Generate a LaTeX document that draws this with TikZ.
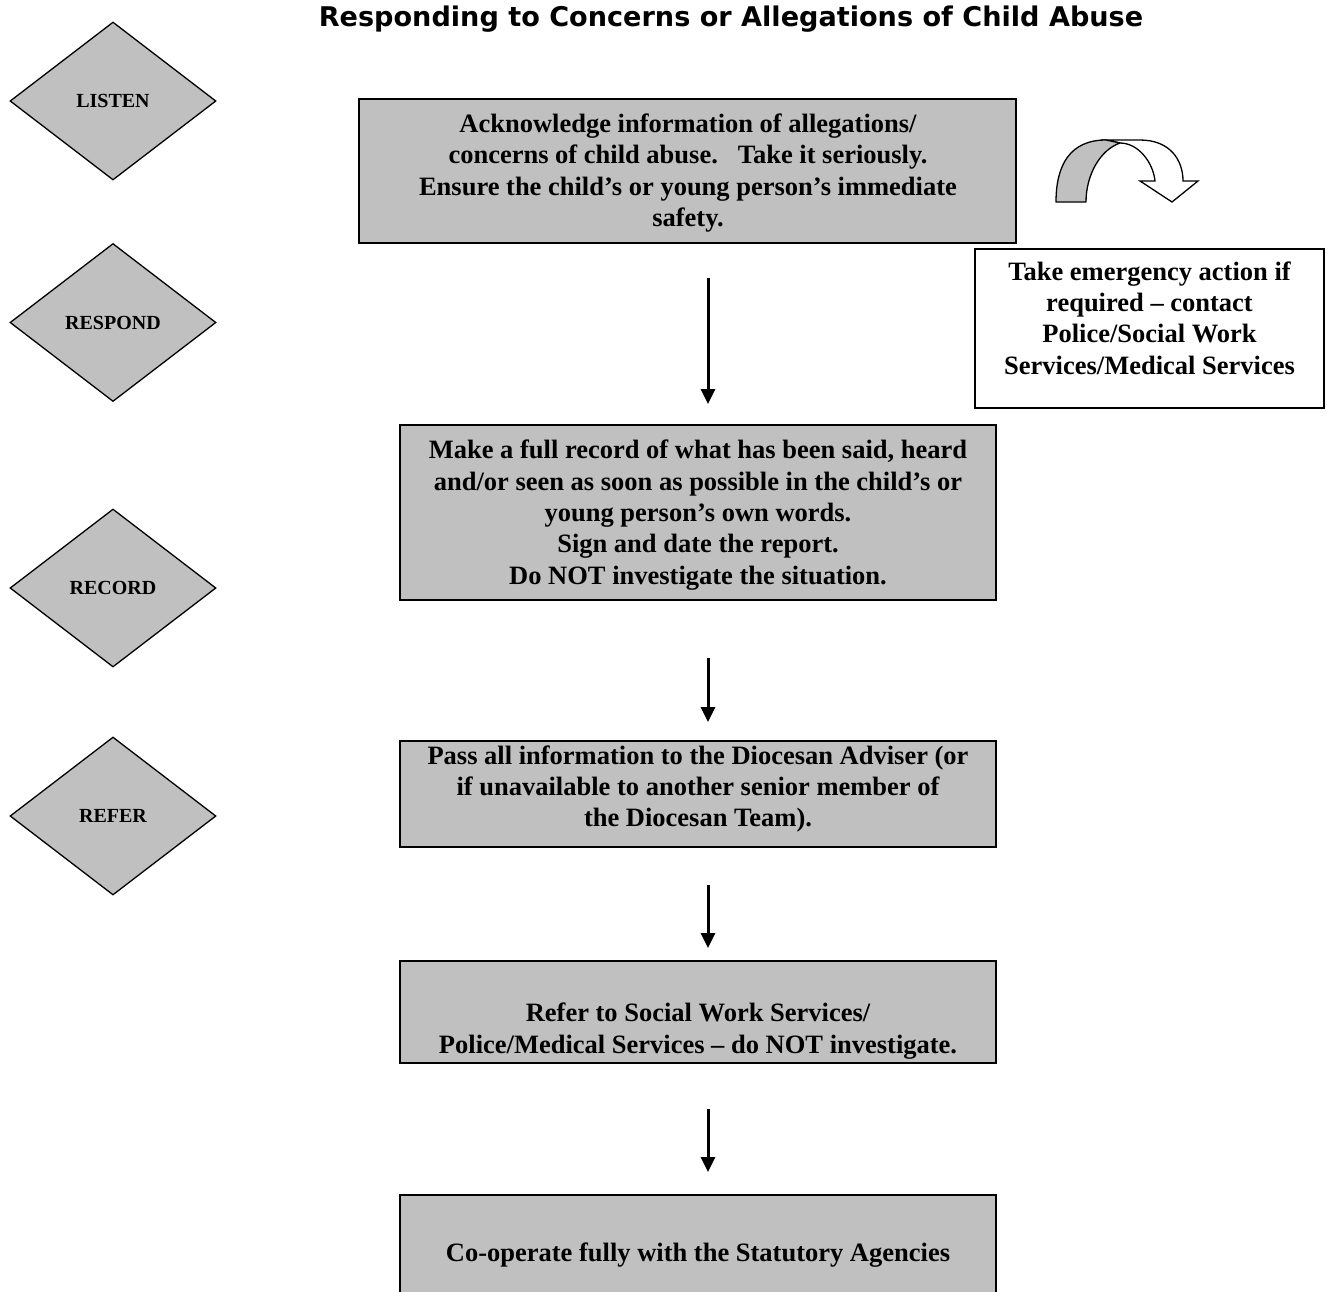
\documentclass[tikz,border=0pt]{standalone}
\usepackage{fontspec}
\setmainfont{Liberation Serif}
\newfontfamily\titlefont{DejaVu Sans}
\usetikzlibrary{shapes.geometric,arrows.meta}
\definecolor{boxgray}{RGB}{192,192,192}
\tikzset{
  graybox/.style={draw=black,line width=1.5pt,fill=boxgray,rectangle,inner sep=0pt},
  whitebox/.style={draw=black,line width=1.5pt,fill=white,rectangle,inner sep=0pt},
  phase/.style={draw=black,line width=1.3pt,fill=boxgray,diamond,inner sep=0pt,minimum width=206pt,minimum height=158pt,font=\fontsize{20}{24}\selectfont\bfseries},
  boxtext/.style={align=center,inner sep=0pt,font=\fontsize{26.5}{31.3}\selectfont\bfseries},
  flow/.style={line width=3pt,-{Triangle[length=15pt,width=14pt]}}
}
\begin{document}
\begin{tikzpicture}[x=1pt,y=-1pt]
\clip (0,0) rectangle (1327,1291);
\fill[white] (0,0) rectangle (1327,1291);
% title
\node[inner sep=0pt,font=\titlefont\fontsize{27.1}{32}\selectfont\bfseries] (title) at (731,19.5) {Responding to Concerns or Allegations of Child Abuse};
% phases
\node[phase] (listen) at (113,101) {LISTEN};
\node[phase] (respond) at (113,322.5) {\raisebox{-3pt}{RESPOND}};
\node[phase] (record) at (113,588) {\raisebox{-4pt}{RECORD}};
\node[phase] (refer) at (113,816) {\raisebox{-3pt}{REFER}};
% boxes
\node[graybox,minimum width=657pt,minimum height=144pt] (b1) at (687.5,171) {};
\node[boxtext] (t1) at (688,173) {Acknowledge information of allegations/\\concerns of child abuse.\ \ \ Take it seriously.\\Ensure the child’s or young person’s immediate\\safety.};
\node[graybox,minimum width=596pt,minimum height=175pt] (b2) at (698,512.5) {};
\node[boxtext] (t2) at (698,515) {Make a full record of what has been said, heard\\and/or seen as soon as possible in the child’s or\\young person’s own words.\\Sign and date the report.\\Do NOT investigate the situation.};
\node[graybox,minimum width=596pt,minimum height=106pt] (b3) at (698,794) {};
\node[boxtext] (t3) at (698,789) {Pass all information to the Diocesan Adviser (or\\if unavailable to another senior member of\\the Diocesan Team).};
\node[graybox,minimum width=596pt,minimum height=102pt] (b4) at (698,1012) {};
\node[boxtext] (t4) at (698,1031) {Refer to Social Work Services/\\Police/Medical Services – do NOT investigate.};
\node[graybox,minimum width=596pt,minimum height=120pt,anchor=north] (b5) at (698,1194) {};
\node[boxtext] (t5) at (698,1255) {Co-operate fully with the Statutory Agencies};
\node[whitebox,minimum width=349pt,minimum height=159pt] (em) at (1149.5,328.5) {};
\node[boxtext] (tem) at (1149.5,318) {Take emergency action if\\required – contact\\Police/Social Work\\Services/Medical Services};
% arrows
\coordinate (a1s) at (708,278); \coordinate (a1e) at (708,404);
\coordinate (a2s) at (708,658); \coordinate (a2e) at (708,722);
\coordinate (a3s) at (708,885); \coordinate (a3e) at (708,948);
\coordinate (a4s) at (708,1109); \coordinate (a4e) at (708,1172);
\draw[flow] (a1s) -- (a1e);
\draw[flow] (a2s) -- (a2e);
\draw[flow] (a3s) -- (a3e);
\draw[flow] (a4s) -- (a4e);
% curved arrow
\draw[line width=1.3pt,fill=white,line join=miter]
  (1106,140) -- (1140,140) .. controls (1170,140) and (1183,160) .. (1183,181)
  -- (1198,181) -- (1172,202) -- (1140,181) -- (1155,181)
  .. controls (1153,162) and (1138,143) .. (1120,143) -- cycle;
\draw[line width=1.3pt,fill=boxgray,line join=round]
  (1056,202) .. controls (1056,165) and (1070,140) .. (1106,140)
  -- (1120,143)
  .. controls (1100,150) and (1086,175) .. (1086,202) -- cycle;
\end{tikzpicture}
\end{document}
